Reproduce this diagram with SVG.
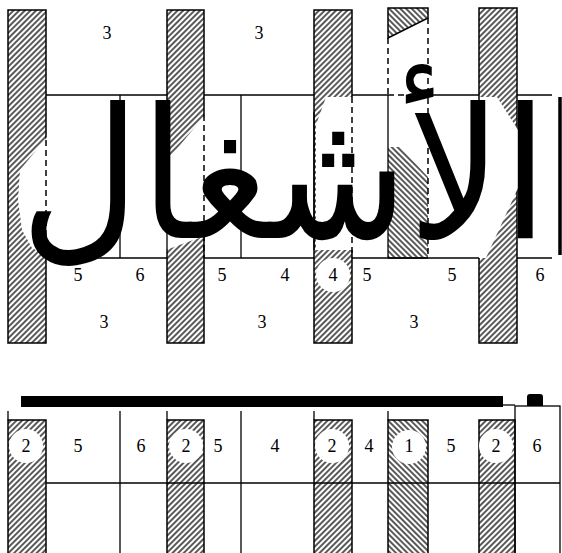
<svg xmlns="http://www.w3.org/2000/svg" width="562" height="553" viewBox="0 0 562 553">
<defs>
<pattern id="hf" width="4" height="4" patternUnits="userSpaceOnUse" patternTransform="rotate(45)"><line x1="1" y1="0" x2="1" y2="4" stroke="#000" stroke-width="1.3"/></pattern>
<pattern id="hb" width="4" height="4" patternUnits="userSpaceOnUse" patternTransform="rotate(-45)"><line x1="1" y1="0" x2="1" y2="4" stroke="#000" stroke-width="1.3"/></pattern>
</defs>
<style>
.bar{fill:url(#hf);stroke:#000;stroke-width:1.5}
.barb{fill:url(#hb);stroke:#000;stroke-width:1.5}
.ln{stroke:#000;stroke-width:1.3;fill:none}
.ds{stroke:#000;stroke-width:1.5;fill:none;stroke-dasharray:6 4}
.wh{fill:#fff;stroke:none}
.num{font-family:"Liberation Serif",serif;font-size:18px;text-anchor:middle;fill:#000}
.ar{font-family:"DejaVu Sans",sans-serif;font-weight:normal;fill:#000}
</style>
<rect width="562" height="553" fill="#fff"/>

<g id="top-grid">
<rect class="bar" x="8" y="10" width="38" height="333"/>
<rect class="bar" x="167" y="10" width="37" height="333"/>
<rect class="bar" x="314" y="10" width="38" height="333"/>
<rect class="bar" x="479" y="8" width="38" height="335"/>
<polygon class="barb" points="388,8 428,8 428,18 388,38"/>
<polygon points="388,147 400,147 428,177 428,257 388,257" fill="url(#hb)"/>
<polygon class="wh" points="47,137 20,170 18,200 22,230 32,248 47,256"/>
<polygon class="wh" points="205,115 166,162 166,250 185,243 205,236"/>
<polygon class="wh" points="353,97 326,97 316,125 316,250 353,250"/>
<polygon class="wh" points="478,97 497,97 518,130 518,188 486,258 478,258"/>
<circle class="wh" cx="333" cy="275" r="17"/>
<line class="ln" x1="46" y1="95" x2="167" y2="95"/>
<line class="ln" x1="204" y1="95" x2="314" y2="95"/>
<line class="ln" x1="352" y1="95" x2="388" y2="95"/>
<line class="ds" x1="388" y1="95" x2="428" y2="95"/>
<line class="ln" x1="428" y1="95" x2="479" y2="95"/>
<line class="ln" x1="517" y1="95" x2="552" y2="95"/>
<line class="ln" x1="46" y1="258" x2="167" y2="258"/>
<line class="ln" x1="204" y1="258" x2="314" y2="258"/>
<line class="ln" x1="352" y1="258" x2="479" y2="258"/>
<line class="ln" x1="517" y1="258" x2="552" y2="258"/>
<line class="ln" x1="120" y1="95" x2="120" y2="258"/>
<line class="ln" x1="241" y1="95" x2="241" y2="258"/>
<line class="ds" x1="46" y1="140" x2="46" y2="236"/>
<line class="ln" x1="167" y1="160" x2="167" y2="250"/>
<line class="ds" x1="204" y1="115" x2="204" y2="258"/>
<line class="ln" x1="314" y1="112" x2="314" y2="250"/>
<line class="ds" x1="352" y1="97" x2="352" y2="258"/>
<line class="ds" x1="388" y1="38" x2="388" y2="95"/>
<line class="ln" x1="388" y1="95" x2="388" y2="258"/>
<line class="ds" x1="428" y1="18" x2="428" y2="258"/>
<line class="ln" x1="388" y1="258" x2="428" y2="258"/>
<line class="ds" x1="479" y1="97" x2="479" y2="187"/>
<line stroke="#000" stroke-width="3.5" x1="560" y1="97" x2="560" y2="255"/>
</g>

<g id="word">
<text class="ar" x="284" y="238" text-anchor="middle" font-size="182" textLength="528" lengthAdjust="spacingAndGlyphs">الأشغال</text>
</g>

<g id="top-numbers">
<text class="num" x="107" y="39">3</text>
<text class="num" x="259" y="39">3</text>
<text class="num" x="78" y="281">5</text>
<text class="num" x="140" y="281">6</text>
<text class="num" x="222" y="281">5</text>
<text class="num" x="285" y="281">4</text>
<text class="num" x="333" y="281">4</text>
<text class="num" x="367" y="281">5</text>
<text class="num" x="452" y="281">5</text>
<text class="num" x="540" y="281">6</text>
<text class="num" x="104" y="328">3</text>
<text class="num" x="262" y="328">3</text>
<text class="num" x="414" y="328">3</text>
</g>

<g id="bottom-grid">
<rect x="21" y="396" width="482" height="11" fill="#000"/>
<path d="M503 405 H515" class="ln"/>
<path d="M527 406 V397 Q527 394 530 394 H540 Q543 394 543 397 V406 Z" fill="#000"/>
<rect x="515" y="406" width="45" height="150" fill="#fff" stroke="#000" stroke-width="1.3"/>
<line class="ln" x1="46" y1="483" x2="560" y2="483"/>
<line class="ln" x1="120" y1="411" x2="120" y2="553"/>
<line class="ln" x1="241" y1="411" x2="241" y2="553"/>
<line class="ln" x1="8" y1="411" x2="8" y2="420"/>
<line class="ln" x1="167" y1="411" x2="167" y2="420"/>
<line class="ln" x1="314" y1="411" x2="314" y2="420"/>
<line class="ln" x1="388" y1="411" x2="388" y2="420"/>
<rect class="bar" x="8" y="420" width="38" height="140"/>
<rect class="bar" x="167" y="420" width="37" height="140"/>
<rect class="bar" x="314" y="420" width="38" height="140"/>
<rect class="barb" x="388" y="420" width="40" height="140"/>
<rect class="bar" x="479" y="420" width="36" height="140"/>
<circle class="wh" cx="26" cy="446" r="17"/>
<circle class="wh" cx="186" cy="446" r="17"/>
<circle class="wh" cx="332" cy="446" r="17"/>
<circle class="wh" cx="409" cy="447" r="17"/>
<circle class="wh" cx="496" cy="446" r="17"/>
</g>

<g id="bottom-numbers">
<text class="num" x="26" y="452">2</text>
<text class="num" x="78" y="452">5</text>
<text class="num" x="141" y="452">6</text>
<text class="num" x="186" y="452">2</text>
<text class="num" x="218" y="452">5</text>
<text class="num" x="275" y="452">4</text>
<text class="num" x="332" y="452">2</text>
<text class="num" x="369" y="452">4</text>
<text class="num" x="409" y="452">1</text>
<text class="num" x="451" y="452">5</text>
<text class="num" x="496" y="452">2</text>
<text class="num" x="537" y="452">6</text>
</g>
</svg>
